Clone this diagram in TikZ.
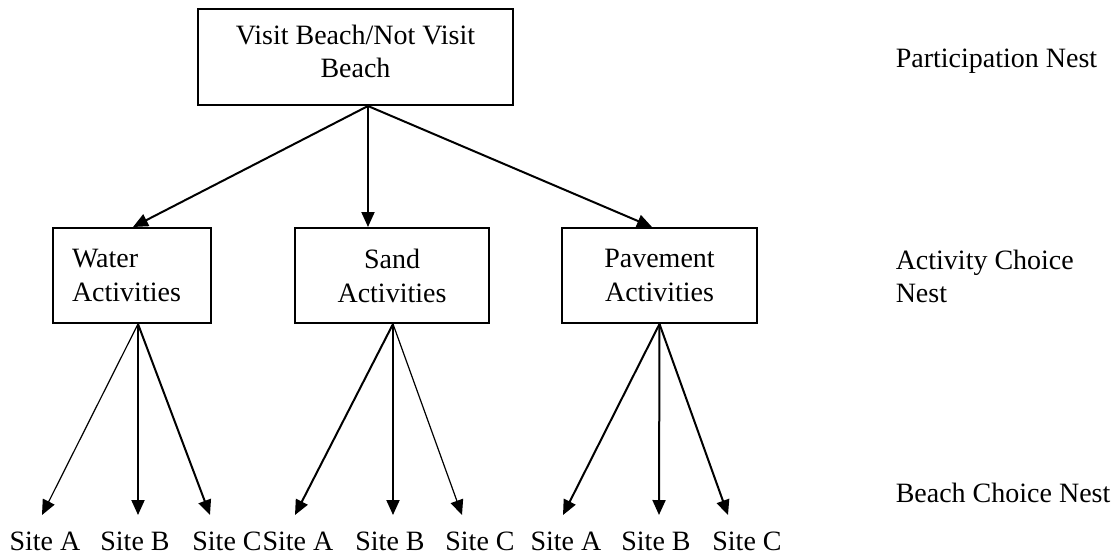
\documentclass[tikz,border=0pt]{standalone}
\usepackage{fontspec}
\setmainfont{Liberation Serif}
\usetikzlibrary{arrows.meta}
\tikzset{every picture/.style={line width=0.75pt}}
\tikzset{
  nestbox/.style={draw, line width=1pt, inner sep=0pt},
  actbox/.style={nestbox, minimum height=47.5pt, font=\fontsize{14pt}{17pt}\selectfont},
  nestarrow/.style={-{Triangle[length=7.5pt,width=6.5pt]}, line width=1pt},
  thinarrow/.style={nestarrow, line width=0.6pt},
  sitelabel/.style={anchor=north, inner sep=0pt, text height=17.5pt},
  levellabel/.style={anchor=base west, inner sep=0pt, align=left}
}

\begin{document}
\begin{tikzpicture}[x=0.5pt,y=0.5pt,yscale=-1,xscale=1,
  every node/.style={font=\fontsize{14pt}{16.5pt}\selectfont}]
\useasboundingbox (0,0) rectangle (1115,554);

%Shape: Rectangle [id:top]
\node[nestbox, minimum width=157.5pt, minimum height=48pt, align=center, text depth=6pt] (top) at (355.5,57) {Visit Beach/Not Visit\\Beach};
%Shape: Rectangle [id:water]
\node[actbox, minimum width=79pt, text width=60pt, align=left] (water) at (132,275.5) {Water\\Activities};
%Shape: Rectangle [id:sand]
\node[actbox, minimum width=97pt, align=center] (sand) at (392,275.5) {Sand\\Activities};
%Shape: Rectangle [id:pave]
\node[actbox, minimum width=97.5pt, align=center] (pave) at (659.5,275.5) {Pavement\\Activities};

%Text Nodes
\node[sitelabel] (wA) at (45,515) {Site A};
\node[sitelabel] (wB) at (135,515) {Site B};
\node[sitelabel] (wC) at (227,515) {Site C};
\node[sitelabel] (sA) at (298,515) {Site A};
\node[sitelabel] (sB) at (390,515) {Site B};
\node[sitelabel] (sC) at (480,515) {Site C};
\node[sitelabel] (pA) at (566,515) {Site A};
\node[sitelabel] (pB) at (656,515) {Site B};
\node[sitelabel] (pC) at (747,515) {Site C};

\node[levellabel] (partnest) at (895,67) {Participation Nest};
\node[levellabel] (actnest) at (895,302) {Activity Choice\\Nest};
\node[levellabel] (beachnest) at (895,502) {Beach Choice Nest};

%Straight Lines
\draw[nestarrow] ([xshift=6.25pt]top.south) -- ([xshift=0.5pt]water.north);
\draw[nestarrow] ([xshift=6.25pt]top.south) -- ([xshift=-12pt]sand.north);
\draw[nestarrow] ([xshift=6.25pt]top.south) -- ([xshift=-3.75pt]pave.north);

%Straight Lines
\draw[thinarrow] ([xshift=3pt]water.south) -- ([xshift=-1.5pt]wA.north);
\draw[nestarrow] ([xshift=3pt]water.south) -- ([xshift=1.5pt]wB.north);
\draw[nestarrow] ([xshift=3pt]water.south) -- ([xshift=-8.5pt]wC.north);
%Straight Lines
\draw[nestarrow] ([xshift=0.5pt]sand.south) -- ([xshift=-1.5pt]sA.north);
\draw[nestarrow] ([xshift=0.5pt]sand.south) -- ([xshift=1.5pt]sB.north);
\draw[thinarrow] ([xshift=0.5pt]sand.south) -- ([xshift=-9pt]sC.north);
%Straight Lines
\draw[nestarrow] (pave.south) -- ([xshift=-1.5pt]pA.north);
\draw[nestarrow] (pave.south) -- ([xshift=1.5pt]pB.north);
\draw[nestarrow] (pave.south) -- ([xshift=-9.5pt]pC.north);

\end{tikzpicture}
\end{document}
